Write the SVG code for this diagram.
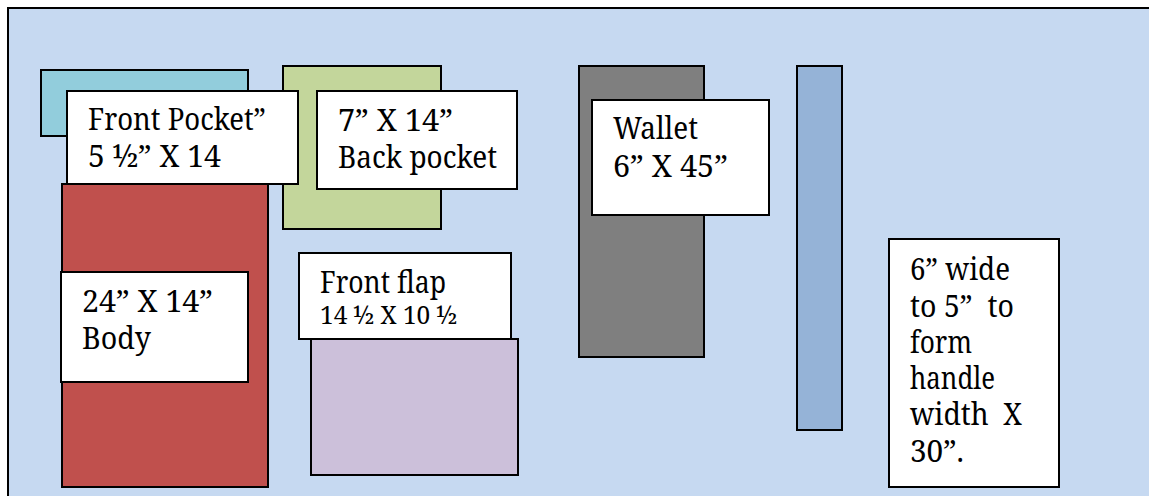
<svg xmlns="http://www.w3.org/2000/svg" width="1149" height="496" viewBox="0 0 1149 496">
<style>
  .pc { stroke: #000; stroke-width: 2; }
  .lbl { fill: #fff; stroke: #000; stroke-width: 2; }
  text { font-family: "Noto Serif", "DejaVu Serif", serif; font-size: 30px; fill: #000; white-space: pre; }
  .sm { font-size: 24.5px; }
</style>
<rect x="0" y="0" width="1149" height="496" fill="#fff"/>
<rect id="sheet" x="8" y="8" width="1160" height="510" fill="#C6D9F1" stroke="#000" stroke-width="2"/>

<g id="front-pocket-piece"><rect class="pc" x="41" y="70" width="207" height="66" fill="#92CDDC"/></g>
<g id="back-pocket-piece"><rect class="pc" x="283" y="66" width="158" height="163" fill="#C3D69B"/></g>
<g id="body-piece"><rect class="pc" x="62" y="184" width="206" height="303" fill="#C0504D"/></g>
<g id="wallet-piece"><rect class="pc" x="579" y="66" width="125" height="291" fill="#7F7F7F"/></g>
<g id="handle-piece"><rect class="pc" x="797" y="66" width="45" height="364" fill="#95B3D7"/></g>

<g id="front-pocket-label">
  <rect class="lbl" x="67" y="91" width="231" height="93"/>
  <text x="88" y="130" textLength="178" lengthAdjust="spacingAndGlyphs">Front Pocket”</text>
  <text x="88" y="167" textLength="133" lengthAdjust="spacingAndGlyphs">5 ½” X 14</text>
</g>
<g id="back-pocket-label">
  <rect class="lbl" x="317" y="91" width="200" height="98"/>
  <text x="338" y="131" textLength="115" lengthAdjust="spacingAndGlyphs">7” X 14”</text>
  <text x="338" y="168" textLength="159" lengthAdjust="spacingAndGlyphs">Back pocket</text>
</g>
<g id="body-label">
  <rect class="lbl" x="61" y="272" width="187" height="110"/>
  <text x="82" y="312" textLength="131" lengthAdjust="spacingAndGlyphs">24” X 14”</text>
  <text x="82" y="349" textLength="69" lengthAdjust="spacingAndGlyphs">Body</text>
</g>
<g id="front-flap-label">
  <rect class="lbl" x="299" y="253" width="212" height="86"/>
  <text x="320" y="293" textLength="126" lengthAdjust="spacingAndGlyphs">Front flap</text>
  <text class="sm" x="320" y="324" textLength="137" lengthAdjust="spacingAndGlyphs">14 ½ X 10 ½</text>
</g>
<g id="front-flap-piece"><rect class="pc" x="311" y="339" width="207" height="136" fill="#CCC0DA"/></g>
<g id="wallet-label">
  <rect class="lbl" x="592" y="100" width="177" height="115"/>
  <text x="613" y="139" textLength="85" lengthAdjust="spacingAndGlyphs">Wallet</text>
  <text x="613" y="177" textLength="115" lengthAdjust="spacingAndGlyphs">6” X 45”</text>
</g>
<g id="handle-label">
  <rect class="lbl" x="889" y="239" width="170" height="248"/>
  <text x="910" y="280" textLength="100" lengthAdjust="spacingAndGlyphs">6” wide</text>
  <text x="910" y="317" textLength="104" lengthAdjust="spacingAndGlyphs">to 5”  to</text>
  <text x="910" y="353" textLength="62" lengthAdjust="spacingAndGlyphs">form</text>
  <text x="910" y="389" textLength="85" lengthAdjust="spacingAndGlyphs">handle</text>
  <text x="910" y="425" textLength="112" lengthAdjust="spacingAndGlyphs">width  X</text>
  <text x="910" y="462" textLength="54" lengthAdjust="spacingAndGlyphs">30”.</text>
</g>
</svg>
